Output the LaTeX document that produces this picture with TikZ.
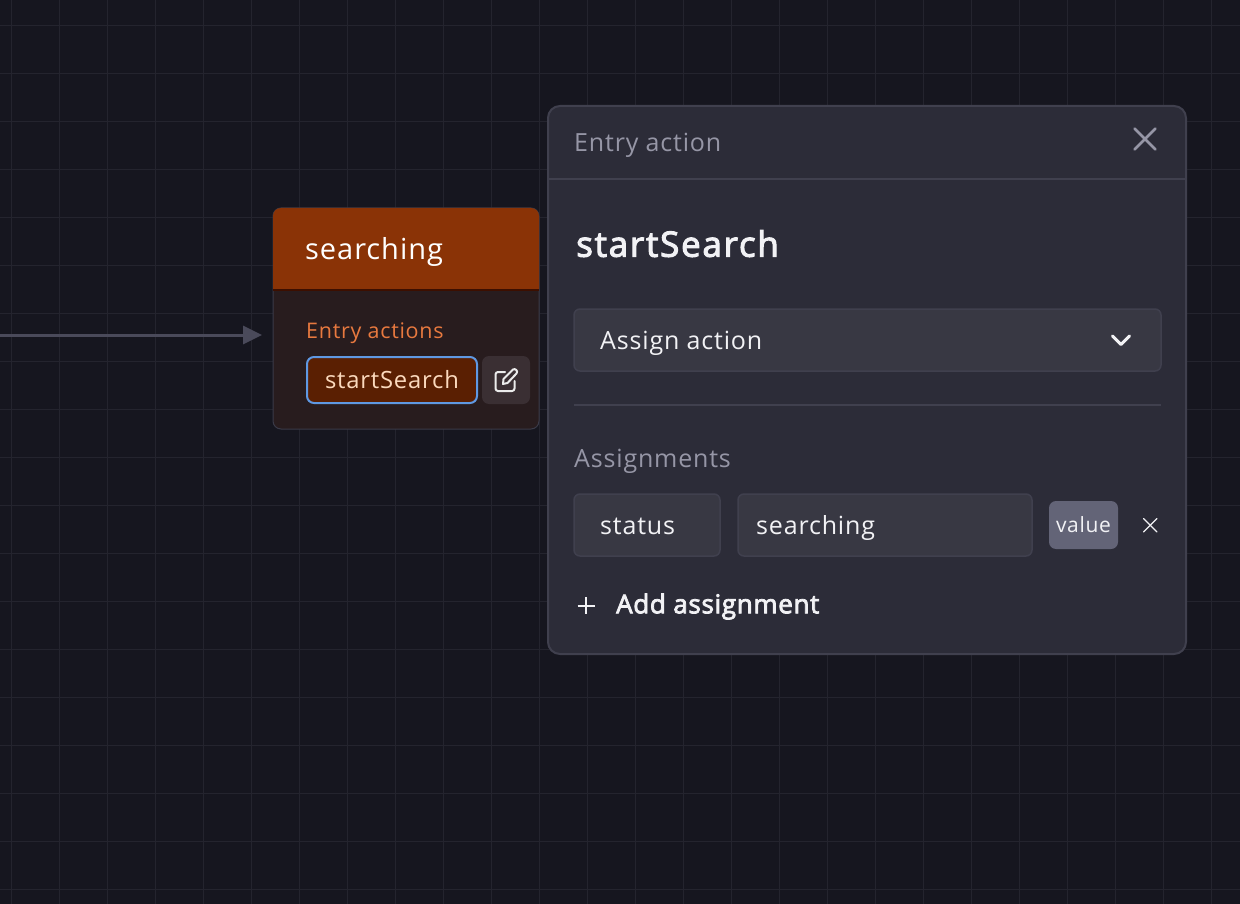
\documentclass[tikz,border=0pt]{standalone}
\usepackage{fontspec}
\setmainfont[LetterSpace=3.3]{Open Sans}
\newfontfamily\semilarge[LetterSpace=5,FakeBold=3]{Open Sans}
\newfontfamily\semismall[LetterSpace=2.6,FakeBold=3]{Open Sans}
\usepackage{xcolor}
\usetikzlibrary{arrows.meta,positioning}

\definecolor{canvasbg}{HTML}{16161F}
\definecolor{gridline}{HTML}{24242E}
\definecolor{edgegray}{HTML}{4A4A5A}
\definecolor{headerorange}{HTML}{8A3306}
\definecolor{headerline}{HTML}{3D0F00}
\definecolor{statebg}{HTML}{281C1E}
\definecolor{stateborder}{HTML}{3A3A48}
\definecolor{entrylabel}{HTML}{E8793F}
\definecolor{actionbg}{HTML}{5A1F02}
\definecolor{actionborder}{HTML}{5F98E2}
\definecolor{actiontext}{HTML}{FBD9BD}
\definecolor{editbg}{HTML}{3A2F33}
\definecolor{panelbg}{HTML}{2C2C38}
\definecolor{panelborder}{HTML}{40404E}
\definecolor{fieldbg}{HTML}{383843}
\definecolor{mutedtext}{HTML}{9696A6}
\definecolor{lighttext}{HTML}{F2F2F5}
\definecolor{badgebg}{HTML}{636477}

\tikzset{
  box/.style={rectangle, inner sep=0pt, outer sep=0pt, anchor=north west},
  txt/.style={inner sep=0pt, anchor=base west, text=lighttext},
  field/.style={box, fill=fieldbg, draw=panelborder, line width=1.5pt, rounded corners=6pt},
  transition/.style={draw=edgegray, line width=3pt, shorten >=11pt, -{Triangle[length=19pt,width=18pt,fill=edgegray]}},
  cross/.style={line width=1.3pt, line cap=round}
}

\begin{document}
\begin{tikzpicture}[x=1pt,y=-1pt]
\useasboundingbox (0,0) rectangle (1240,904);
\fill[canvasbg] (0,0) rectangle (1240,904);

% Grid
\foreach \x in {0,...,25} {
  \draw[gridline, line width=1pt] ({11.5+48*\x},0) -- ({11.5+48*\x},904);
}
\foreach \y in {0,...,18} {
  \draw[gridline, line width=1pt] (0,{25.5+48*\y}) -- (1240,{25.5+48*\y});
}

% State
\node[box, fill=statebg, draw=stateborder, line width=1pt, rounded corners=8pt,
  minimum width=266pt, minimum height=221pt] (state) at (273,208) {};
\fill[headerorange] (273,289) {[rounded corners=8pt] -- (273,208) -- (539,208)} -- (539,289) -- cycle;
\fill[headerline] (273,289) rectangle (539,291);
\node[txt, font=\fontsize{29}{32}\selectfont, text=white] (statename) at (305,260) {searching};

% Entry transition
\coordinate (entry) at (0,335);
\draw[transition] (entry) -- (entry -| state.west);

% Entry actions
\node[txt, font=\fontsize{21.5}{26}\selectfont, text=entrylabel] (entrytitle) at (306,338.5) {Entry actions};
\node[box, fill=actionbg, draw=actionborder, line width=2pt, rounded corners=7pt,
  minimum width=170pt, minimum height=46pt, text=actiontext,
  font=\fontsize{23.8}{28}\selectfont] (action) at (307,357) {startSearch};
\node[box, fill=editbg, rounded corners=7pt, minimum width=48pt, minimum height=48pt] (edit) at (482,356) {};

% Edit icon
\draw[white!92!black, line width=2pt, line cap=round, line join=round, rounded corners=2.5pt]
  (505,372) -- (495.5,372) -- (495.5,391) -- (514.5,391) -- (514.5,381);
\draw[white!92!black, line width=2pt, line cap=round, line join=round]
  (503,384) -- (503.5,379) -- (513,369.5) .. controls (515,368) and (518.5,371) .. (516.5,373.5) -- (507.5,383) -- cycle;

% Panel
\node[box, fill=panelbg, draw=panelborder, line width=2pt, rounded corners=12pt,
  minimum width=638pt, minimum height=548pt] (panel) at (548,106) {};
\draw[panelborder, line width=2pt] (549,179) -- (1185,179);
\node[txt, font=\fontsize{25}{30}\selectfont, text=mutedtext] (paneltitle) at (574,151.7) {Entry action};
\coordinate (closea) at (1134.5,128.5);
\coordinate (closeb) at (1155.5,149.5);
\coordinate (closec) at (1155.5,128.5);
\coordinate (closed) at (1134.5,149.5);
\draw[cross, mutedtext, line width=2.6pt] (closea) -- (closeb);
\draw[cross, mutedtext, line width=2.6pt] (closec) -- (closed);

\node[txt, font=\fontsize{35}{40}\selectfont\semilarge] (actionname) at (576,256.7) {startSearch};

% Action type
\node[field, minimum width=587pt, minimum height=62pt] (typefield) at (574,309) {};
\node[txt, font=\fontsize{25}{30}\selectfont] (typename) at (600,349) {Assign action};
\draw[lighttext, line width=3pt, line cap=round, line join=round] (1112.5,336) -- (1121,344.5) -- (1129.5,336);
\draw[panelborder, line width=2pt] (574,405) -- (1161,405);

% Assignments
\node[txt, font=\fontsize{25}{30}\selectfont, text=mutedtext] (assigntitle) at (574,467) {Assignments};
\node[field, minimum width=146pt, minimum height=62pt] (keyfield) at (574,494) {};
\node[txt, font=\fontsize{25}{30}\selectfont] (keyname) at (600,534.3) {status};
\node[field, minimum width=294pt, minimum height=62pt] (valuefield) at (738,494) {};
\node[txt, font=\fontsize{25}{30}\selectfont] (valuename) at (756,534) {searching};
\node[box, fill=badgebg, rounded corners=7pt, minimum width=69pt, minimum height=48pt,
  text=lighttext, font=\fontsize{21}{26}\selectfont] (valuetype) at (1049,501) {value};
\draw[cross, lighttext] (1143.5,518.5) -- (1157,532);
\draw[cross, lighttext] (1157,518.5) -- (1143.5,532);

% Add assignment
\draw[lighttext, line width=2pt] (577.5,605.5) -- (594.5,605.5);
\draw[lighttext, line width=2pt] (586,597) -- (586,614);
\node[txt, font=\fontsize{26}{30}\selectfont\semismall] (addlabel) at (616,613.3) {Add assignment};
\end{tikzpicture}
\end{document}
